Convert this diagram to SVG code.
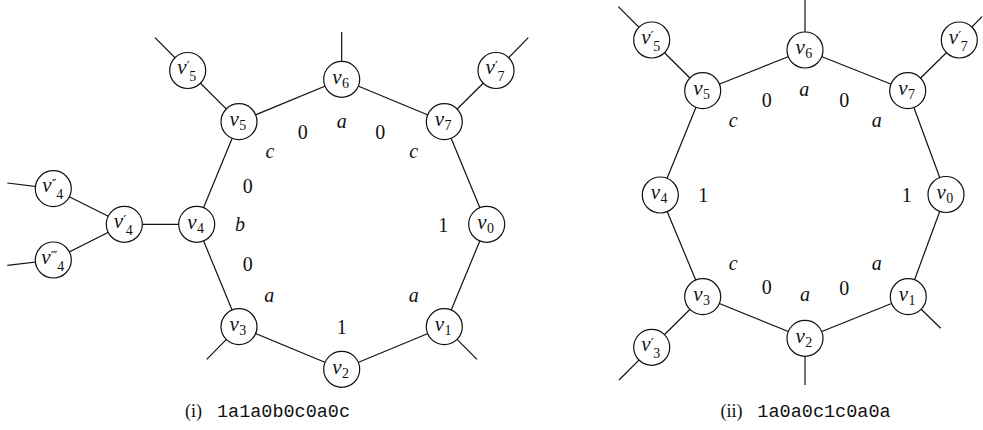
<svg xmlns="http://www.w3.org/2000/svg" width="983" height="430" viewBox="0 0 983 430">
<style>
  .e { stroke: #111; stroke-width: 1.2; fill: none; }
  .n { fill: #fff; stroke: #111; stroke-width: 1.2; }
  .v { font-family: "Liberation Serif", "DejaVu Serif", serif; font-style: italic; font-size: 21px; fill: #111; }
  .s { font-style: normal; font-size: 14px; }
  .p { font-style: normal; font-family: "DejaVu Sans", sans-serif; font-size: 13px; letter-spacing: -1px; }
  .l { font-family: "Liberation Serif", "DejaVu Serif", serif; font-size: 20px; fill: #111; text-anchor: middle; }
  .li { font-family: "Liberation Serif", "DejaVu Serif", serif; font-style: italic; font-size: 20px; fill: #111; text-anchor: middle; }
  .cap { font-family: "Liberation Serif", serif; font-size: 18px; fill: #111; }
  .code { font-family: "Liberation Mono", "DejaVu Sans Mono", monospace; font-size: 18px; fill: #111; }
</style>
<rect width="983" height="430" fill="#fff"/>

<g id="connectors">
  <line class="e" x1="486.7" y1="224.3" x2="444.3" y2="326.7"/>
  <line class="e" x1="444.3" y1="326.7" x2="341.7" y2="369.3"/>
  <line class="e" x1="341.7" y1="369.3" x2="239" y2="326.7"/>
  <line class="e" x1="239" y1="326.7" x2="196.7" y2="224.3"/>
  <line class="e" x1="196.7" y1="224.3" x2="239" y2="121.7"/>
  <line class="e" x1="239" y1="121.7" x2="341.7" y2="79.3"/>
  <line class="e" x1="341.7" y1="79.3" x2="444.3" y2="121.7"/>
  <line class="e" x1="444.3" y1="121.7" x2="486.7" y2="224.3"/>
  <line class="e" x1="196.7" y1="224.3" x2="124.3" y2="224.3"/>
  <line class="e" x1="124.3" y1="224.3" x2="53.3" y2="188.7"/>
  <line class="e" x1="124.3" y1="224.3" x2="53.3" y2="260"/>
  <line class="e" x1="239" y1="121.7" x2="187.7" y2="70.5"/>
  <line class="e" x1="444.3" y1="121.7" x2="496" y2="70.5"/>
  <line class="e" x1="187.7" y1="70.5" x2="155" y2="37.7"/>
  <line class="e" x1="341.7" y1="79.3" x2="341.7" y2="32"/>
  <line class="e" x1="496" y1="70.5" x2="528.3" y2="37.7"/>
  <line class="e" x1="53.3" y1="188.7" x2="7.3" y2="183"/>
  <line class="e" x1="53.3" y1="260" x2="7.3" y2="265.3"/>
  <line class="e" x1="239" y1="326.7" x2="206.7" y2="359.3"/>
  <line class="e" x1="444.3" y1="326.7" x2="477" y2="359.3"/>
  <line class="e" x1="946" y1="194.5" x2="908.3" y2="296.7"/>
  <line class="e" x1="908.3" y1="296.7" x2="805" y2="338.3"/>
  <line class="e" x1="805" y1="338.3" x2="702.7" y2="296.7"/>
  <line class="e" x1="702.7" y1="296.7" x2="660.3" y2="195"/>
  <line class="e" x1="660.3" y1="195" x2="702.7" y2="90.7"/>
  <line class="e" x1="702.7" y1="90.7" x2="805" y2="50"/>
  <line class="e" x1="805" y1="50" x2="907.7" y2="90.7"/>
  <line class="e" x1="907.7" y1="90.7" x2="946" y2="194.5"/>
  <line class="e" x1="702.7" y1="90.7" x2="651.7" y2="40"/>
  <line class="e" x1="907.7" y1="90.7" x2="959.3" y2="40"/>
  <line class="e" x1="702.7" y1="296.7" x2="651.7" y2="347.3"/>
  <line class="e" x1="651.7" y1="40" x2="618.3" y2="6.7"/>
  <line class="e" x1="805" y1="50" x2="805" y2="0"/>
  <line class="e" x1="959.3" y1="40" x2="982" y2="16.7"/>
  <line class="e" x1="651.7" y1="347.3" x2="619" y2="380"/>
  <line class="e" x1="805" y1="338.3" x2="805" y2="385"/>
  <line class="e" x1="908.3" y1="296.7" x2="940.7" y2="328.3"/>
</g>

<g id="L-v0"><circle class="n" cx="486.7" cy="224.3" r="18"/><text class="v" x="477.2" y="228.5">v<tspan class="s" x="486.9" y="232.5">0</tspan></text></g>
<g id="L-v1"><circle class="n" cx="444.3" cy="326.7" r="18"/><text class="v" x="434.8" y="330.9">v<tspan class="s" x="444.5" y="334.9">1</tspan></text></g>
<g id="L-v2"><circle class="n" cx="341.7" cy="369.3" r="18"/><text class="v" x="332.2" y="373.5">v<tspan class="s" x="341.9" y="377.5">2</tspan></text></g>
<g id="L-v3"><circle class="n" cx="239" cy="326.7" r="18"/><text class="v" x="229.5" y="330.9">v<tspan class="s" x="239.2" y="334.9">3</tspan></text></g>
<g id="L-v4"><circle class="n" cx="196.7" cy="224.3" r="18"/><text class="v" x="187.2" y="228.5">v<tspan class="s" x="196.9" y="232.5">4</tspan></text></g>
<g id="L-v5"><circle class="n" cx="239" cy="121.7" r="18"/><text class="v" x="229.5" y="125.9">v<tspan class="s" x="239.2" y="129.9">5</tspan></text></g>
<g id="L-v6"><circle class="n" cx="341.7" cy="79.3" r="18"/><text class="v" x="332.2" y="83.5">v<tspan class="s" x="341.9" y="87.5">6</tspan></text></g>
<g id="L-v7"><circle class="n" cx="444.3" cy="121.7" r="18"/><text class="v" x="434.8" y="125.9">v<tspan class="s" x="444.5" y="129.9">7</tspan></text></g>
<g id="L-v5p"><circle class="n" cx="187.7" cy="70.5" r="18"/><text class="v" x="177.2" y="74">v<tspan class="p" x="186.7" y="70">′</tspan><tspan class="s" x="189.2" y="81">5</tspan></text></g>
<g id="L-v7p"><circle class="n" cx="496" cy="70.5" r="18"/><text class="v" x="485.5" y="74">v<tspan class="p" x="495" y="70">′</tspan><tspan class="s" x="497.5" y="81">7</tspan></text></g>
<g id="L-v4p"><circle class="n" cx="124.3" cy="224.3" r="18"/><text class="v" x="113.8" y="227.8">v<tspan class="p" x="123.3" y="223.8">′</tspan><tspan class="s" x="125.8" y="234.8">4</tspan></text></g>
<g id="L-v4pp"><circle class="n" cx="53.3" cy="188.7" r="18"/><text class="v" x="42.3" y="192.2">v<tspan class="p" x="51.8" y="188.2">″</tspan><tspan class="s" x="56.3" y="199.2">4</tspan></text></g>
<g id="L-v4ppp"><circle class="n" cx="53.3" cy="260" r="18"/><text class="v" x="41.3" y="263.5">v<tspan class="p" x="50.8" y="259.5">‴</tspan><tspan class="s" x="57.3" y="270.5">4</tspan></text></g>

<g id="R-v0"><circle class="n" cx="946" cy="194.5" r="18"/><text class="v" x="936.5" y="198.7">v<tspan class="s" x="946.2" y="202.7">0</tspan></text></g>
<g id="R-v1"><circle class="n" cx="908.3" cy="296.7" r="18"/><text class="v" x="898.8" y="300.9">v<tspan class="s" x="908.5" y="304.9">1</tspan></text></g>
<g id="R-v2"><circle class="n" cx="805" cy="338.3" r="18"/><text class="v" x="795.5" y="342.5">v<tspan class="s" x="805.2" y="346.5">2</tspan></text></g>
<g id="R-v3"><circle class="n" cx="702.7" cy="296.7" r="18"/><text class="v" x="693.2" y="300.9">v<tspan class="s" x="702.9" y="304.9">3</tspan></text></g>
<g id="R-v4"><circle class="n" cx="660.3" cy="195" r="18"/><text class="v" x="650.8" y="199.2">v<tspan class="s" x="660.5" y="203.2">4</tspan></text></g>
<g id="R-v5"><circle class="n" cx="702.7" cy="90.7" r="18"/><text class="v" x="693.2" y="94.9">v<tspan class="s" x="702.9" y="98.9">5</tspan></text></g>
<g id="R-v6"><circle class="n" cx="805" cy="50" r="18"/><text class="v" x="795.5" y="54.2">v<tspan class="s" x="805.2" y="58.2">6</tspan></text></g>
<g id="R-v7"><circle class="n" cx="907.7" cy="90.7" r="18"/><text class="v" x="898.2" y="94.9">v<tspan class="s" x="907.9" y="98.9">7</tspan></text></g>
<g id="R-v5p"><circle class="n" cx="651.7" cy="40" r="18"/><text class="v" x="641.2" y="43.5">v<tspan class="p" x="650.7" y="39.5">′</tspan><tspan class="s" x="653.2" y="50.5">5</tspan></text></g>
<g id="R-v7p"><circle class="n" cx="959.3" cy="40" r="18"/><text class="v" x="948.8" y="43.5">v<tspan class="p" x="958.3" y="39.5">′</tspan><tspan class="s" x="960.8" y="50.5">7</tspan></text></g>
<g id="R-v3p"><circle class="n" cx="651.7" cy="347.3" r="18"/><text class="v" x="641.2" y="350.8">v<tspan class="p" x="650.7" y="346.8">′</tspan><tspan class="s" x="653.2" y="357.8">3</tspan></text></g>

<g id="L-labels">
  <text class="l" x="302.7" y="138.7">0</text>
  <text class="li" x="341.7" y="127.5">a</text>
  <text class="l" x="380.3" y="138.7">0</text>
  <text class="li" x="270" y="157.5">c</text>
  <text class="li" x="413.7" y="157.5">c</text>
  <text class="l" x="247.7" y="193">0</text>
  <text class="li" x="240" y="231">b</text>
  <text class="l" x="247.7" y="271.3">0</text>
  <text class="li" x="269.3" y="301.5">a</text>
  <text class="l" x="341.7" y="333.5">1</text>
  <text class="li" x="413.7" y="301.5">a</text>
  <text class="l" x="443.3" y="232">1</text>
</g>

<g id="R-labels">
  <text class="l" x="766.7" y="107">0</text>
  <text class="li" x="733.3" y="126.5">c</text>
  <text class="li" x="804.3" y="95.5">a</text>
  <text class="l" x="844.3" y="107">0</text>
  <text class="li" x="876.7" y="126.5">a</text>
  <text class="l" x="703.3" y="202">1</text>
  <text class="l" x="906.7" y="202">1</text>
  <text class="li" x="733.3" y="269.8">c</text>
  <text class="l" x="766.7" y="294.3">0</text>
  <text class="li" x="805" y="300.8">a</text>
  <text class="l" x="844.3" y="295">0</text>
  <text class="li" x="876.7" y="269.8">a</text>
</g>

<g id="caption-i">
  <text class="cap" x="185" y="417">(i)</text>
  <text class="code" x="217" y="417" textLength="133" lengthAdjust="spacingAndGlyphs">1a1a0b0c0a0c</text>
</g>
<g id="caption-ii">
  <text class="cap" x="720.5" y="417">(ii)</text>
  <text class="code" x="757.3" y="417" textLength="133.4" lengthAdjust="spacingAndGlyphs">1a0a0c1c0a0a</text>
</g>
</svg>
